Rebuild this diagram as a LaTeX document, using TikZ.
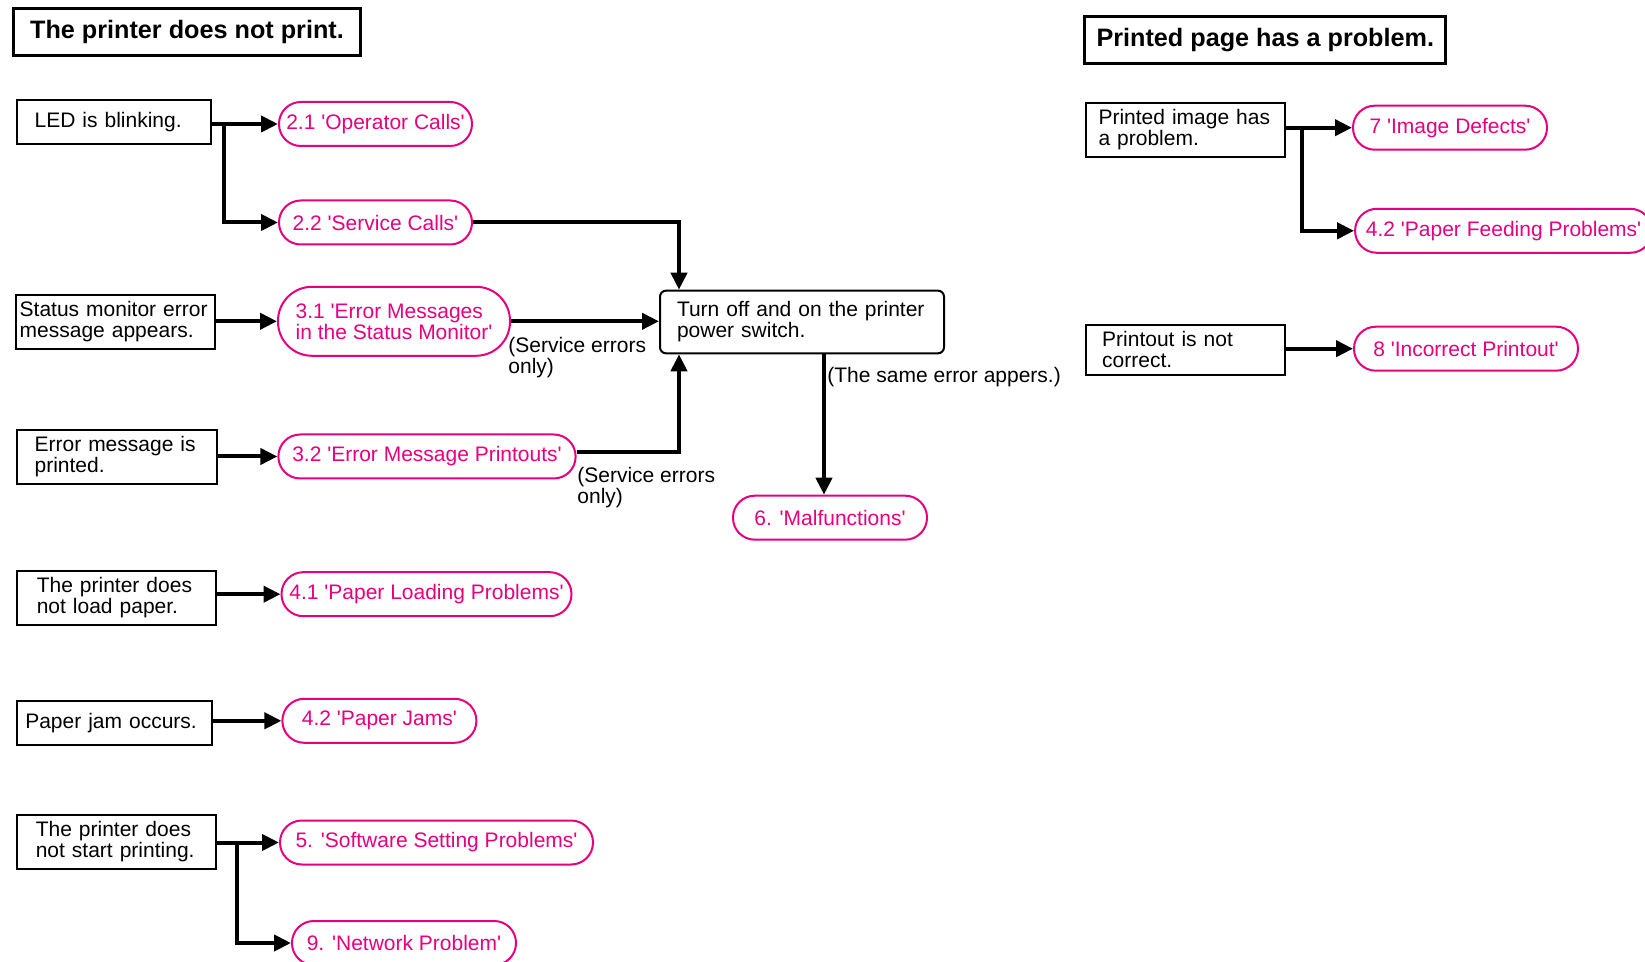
\documentclass[tikz,border=0pt]{standalone}
\usepackage{fontspec}
\setmainfont{Liberation Sans}
\usetikzlibrary{arrows.meta}
\definecolor{refpink}{RGB}{228,0,127}
\newcommand{\sq}{\textquotesingle}
\begin{document}
\begin{tikzpicture}[x=0.5pt,y=-0.5pt,>={Triangle[length=8.5pt,width=8pt]},
 font=\fontsize{10.5}{10.5}\selectfont,
 arr/.style={->,line width=2pt},
 cause/.style 2 args={draw,line width=1pt,anchor=west,align=left,text width=#1,inner xsep=#2,minimum height=22pt},
 topic/.style={draw=refpink,text=refpink,line width=1pt,rounded corners=10.9pt,minimum width=#1,minimum height=22pt,inner xsep=2pt},
 heading/.style={draw,line width=1.5pt,font=\fontsize{12.6}{12.6}\selectfont\bfseries,minimum width=#1,minimum height=23.5pt},
 aside/.style={align=left,inner sep=0pt}]
 \useasboundingbox (0,0) rectangle (1645,962);
 \node[heading=173.5pt] (t1) at (187,31.7) {The printer does not print.};
 \node[heading=180.6pt] (t2) at (1265.3,40.3) {Printed page has a problem.};
 \node[cause={79pt}{9pt}] (led) at (15.6,122) {LED is blinking.};
 \node[cause={95.5pt}{2pt}] (status) at (14.7,322) {Status monitor error\\message appears.};
 \node[cause={82pt}{9pt}] (errmsg) at (15.6,457) {Error message is\\printed.};
 \node[cause={79.5pt}{10pt}] (noload) at (15.8,597.7) {The printer does\\not load paper.};
 \node[cause={89pt}{4.25pt}] (jam) at (15.8,723) {Paper jam occurs.};
 \node[cause={80.5pt}{9.5pt}] (nostart) at (15.8,841.7) {The printer does\\not start printing.};
 \node[cause={86.7pt}{6.4pt}] (image) at (1084.7,129.7) {Printed image has\\a problem.};
 \node[cause={83pt}{8.25pt}] (printout) at (1084.7,349.7) {Printout is not\\correct.};
 \node[topic=96.5pt] (calls21) at (375.5,124) {2.1 \sq Operator Calls\sq};
 \node[topic=96.5pt] (calls22) at (375.5,222.5) {2.2 \sq Service Calls\sq};
 \node[topic=116pt,minimum height=34.5pt,rounded corners=17pt,align=left] (msg31) at (394,321.3)
  {3.1 \sq Error Messages\\in the Status Monitor\sq};
 \node[topic=148.6pt] (msg32) at (427,456.5) {3.2 \sq Error Message Printouts\sq};
 \node[topic=145pt] (load41) at (426.5,594.2) {4.1 \sq Paper Loading Problems\sq};
 \node[topic=97pt] (jams42) at (379.4,720.8) {4.2 \sq Paper Jams\sq};
 \node[topic=156.5pt] (soft5) at (436.5,842.5) {5. \sq Software Setting Problems\sq};
 \node[topic=112pt] (net9) at (404,943) {9. \sq Network Problem\sq};
 \node[topic=97pt] (malf6) at (830,517.7) {6. \sq Malfunctions\sq};
 \node[topic=97pt] (defect7) at (1450,127.7) {7 \sq Image Defects\sq};
 \node[topic=148.5pt] (feed42) at (1503.6,230.8) {4.2 \sq Paper Feeding Problems\sq};
 \node[topic=112pt] (wrong8) at (1466,348.7) {8 \sq Incorrect Printout\sq};
 \node[draw,line width=1pt,rounded corners=3pt,align=left,text width=125pt,inner xsep=8.5pt,
  minimum height=31.3pt] (power) at (802,322) {Turn off and on the printer\\power switch.};
 \node[aside,anchor=north west] (svc1) at (508,337) {(Service errors\\only)};
 \node[aside,anchor=north west] (svc2) at (577,467) {(Service errors\\only)};
 \node[aside,anchor=west] (same) at (827,377) {(The same error appers.)};
 \draw[arr] (led.east |- calls21) -- (calls21.west);
 \coordinate (ledfork) at ([xshift=6pt]led.east |- calls21);
 \draw[arr] (ledfork) |- (calls22.west);
 \draw[arr] (calls22.east) -| ([xshift=10pt]power.north west);
 \draw[arr] (status.east |- msg31) -- (msg31.west);
 \draw[arr] (msg31.east) -- (msg31.east -| power.west);
 \draw[arr] (errmsg.east |- msg32) -- (msg32.west);
 \draw[arr] ([yshift=2pt]msg32.east) -| ([xshift=10pt]power.south west);
 \draw[arr] ([xshift=11pt]power.south) -- ([xshift=11pt]power.south |- malf6.north);
 \draw[arr] (noload.east |- load41) -- (load41.west);
 \draw[arr] (jam.east |- jams42) -- (jams42.west);
 \draw[arr] (nostart.east |- soft5) -- (soft5.west);
 \coordinate (startfork) at ([xshift=10pt]nostart.east |- soft5);
 \draw[arr] (startfork) |- (net9.west);
 \draw[arr] (image.east |- defect7) -- (defect7.west);
 \coordinate (imagefork) at ([xshift=8pt]image.east |- defect7);
 \draw[arr] (imagefork) |- (feed42.west);
 \draw[arr] (printout.east |- wrong8) -- (wrong8.west);
\end{tikzpicture}
\end{document}
